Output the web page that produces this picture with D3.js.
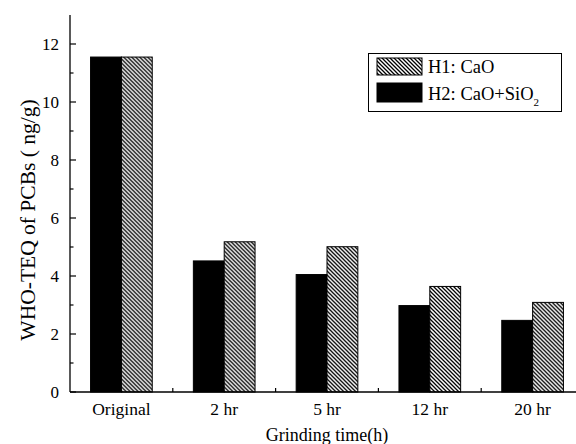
<!DOCTYPE html>
<html>
<head>
<meta charset="utf-8">
<script src="https://cdn.jsdelivr.net/npm/d3@7"></script>
<style>
  html, body { margin: 0; padding: 0; background: #fff; overflow: hidden; font-family: 'Liberation Serif', serif; }
</style>
</head>
<body>
<div id="chart"></div>
<script>
// values
const categories = ["Original", "2 hr", "5 hr", "12 hr", "20 hr"];
const seriesNames = ["H2", "H1"]; // black bar left, hatched bar right
const h1Values = [11.55, 5.18, 5.01, 3.64, 3.09];   // H1: CaO (hatched)
const h2Values = [11.55, 4.52, 4.05, 2.98, 2.47];   // H2: CaO+SiO2 (black)
const yTicks = [0, 2, 4, 6, 8, 10, 12];
const yMinorTicks = [1, 3, 5, 7, 9, 11];

const width = 576;
const height = 444;
const plotLeft = 70, plotBottom = 392, plotTop = 15;
const serif = "'Liberation Serif', serif";

const svg = d3.select("#chart")
  .append("svg")
  .attr("width", width)
  .attr("height", height)
  .style("display", "block");

// hatch pattern for H1: "\" lines, 4px period
const defs = svg.append("defs");
defs.append("pattern")
  .attr("id", "hatch")
  .attr("patternUnits", "userSpaceOnUse")
  .attr("width", 4)
  .attr("height", 4)
  .call(p => {
    p.append("rect").attr("width", 4).attr("height", 4).attr("fill", "#fff");
    p.append("path")
      .attr("d", "M-1,-1L5,5M-1,3L1,5M3,-1L5,1")
      .attr("stroke", "#000").attr("stroke-width", 1.3);
  });

const x0 = d3.scaleBand()
  .domain(categories)
  .range([plotLeft, 584])
  .paddingInner(0.4)
  .paddingOuter(0.2);

const x1 = d3.scaleBand()
  .domain(seriesNames)
  .range([0, x0.bandwidth()]);

const y = d3.scaleLinear()
  .domain([0, 13])
  .range([plotBottom, plotTop]);

const rows = categories.map((c, i) => ({
  cat: c,
  vals: [
    { key: "H2", value: h2Values[i] },
    { key: "H1", value: h1Values[i] }
  ]
}));

const fill = { H1: "url(#hatch)", H2: "#000" };

// bars
svg.append("g")
  .selectAll("g")
  .data(rows)
  .join("g")
  .attr("transform", d => `translate(${x0(d.cat)},0)`)
  .selectAll("rect")
  .data(d => d.vals)
  .join("rect")
  .attr("x", d => x1(d.key))
  .attr("y", d => y(d.value))
  .attr("width", x1.bandwidth())
  .attr("height", d => y(0) - y(d.value))
  .attr("fill", d => fill[d.key])
  .attr("stroke", "#000")
  .attr("stroke-width", 1);

// y axis
const yAxis = svg.append("g").attr("stroke", "#000");
yAxis.append("line")
  .attr("x1", plotLeft).attr("x2", plotLeft)
  .attr("y1", plotTop).attr("y2", plotBottom)
  .attr("stroke-width", 1.3);
yAxis.selectAll("line.major")
  .data(yTicks)
  .join("line")
  .attr("class", "major")
  .attr("x1", plotLeft).attr("x2", plotLeft + 6)
  .attr("y1", d => y(d)).attr("y2", d => y(d))
  .attr("stroke-width", 1.2);
yAxis.selectAll("line.minor")
  .data(yMinorTicks)
  .join("line")
  .attr("class", "minor")
  .attr("x1", plotLeft).attr("x2", plotLeft + 3.5)
  .attr("y1", d => y(d)).attr("y2", d => y(d))
  .attr("stroke-width", 1.2);
svg.append("g")
  .selectAll("text")
  .data(yTicks)
  .join("text")
  .attr("x", plotLeft - 11)
  .attr("y", d => y(d))
  .attr("dy", "0.33em")
  .attr("text-anchor", "end")
  .attr("font-family", serif)
  .style("font-size", "17px")
  .text(d => d);

// x axis
svg.append("line")
  .attr("x1", plotLeft).attr("x2", width)
  .attr("y1", plotBottom).attr("y2", plotBottom)
  .attr("stroke", "#000")
  .attr("stroke-width", 1.3);
svg.append("g")
  .selectAll("line")
  .data(categories.slice(1))
  .join("line")
  .attr("x1", d => x0(d) - x0.step() * x0.paddingInner() / 2)
  .attr("x2", d => x0(d) - x0.step() * x0.paddingInner() / 2)
  .attr("y1", plotBottom).attr("y2", plotBottom - 4)
  .attr("stroke", "#000")
  .attr("stroke-width", 1.2);
svg.append("g")
  .selectAll("text")
  .data(categories)
  .join("text")
  .attr("x", d => x0(d) + x0.bandwidth() / 2)
  .attr("y", plotBottom + 23)
  .attr("text-anchor", "middle")
  .attr("font-family", serif)
  .style("font-size", "17.5px")
  .text(d => d);

// axis titles
svg.append("text")
  .attr("x", 327)
  .attr("y", 441)
  .attr("text-anchor", "middle")
  .attr("font-family", serif)
  .style("font-size", "18px")
  .text("Grinding time(h)");
svg.append("text")
  .attr("transform", "translate(35, 220) rotate(-90)")
  .attr("text-anchor", "middle")
  .attr("font-family", serif)
  .style("font-size", "21.5px")
  .text("WHO-TEQ of PCBs ( ng/g)");

// legend
const legend = svg.append("g");
legend.append("rect")
  .attr("x", 368.5).attr("y", 53.5)
  .attr("width", 193).attr("height", 58)
  .attr("fill", "#fff").attr("stroke", "#000").attr("stroke-width", 1);
const legendItems = [
  { key: "H1", label: "H1: CaO", top: 58, h: 17, base: 73 },
  { key: "H2", label: "H2: CaO+SiO", sub: "2", top: 83, h: 19, base: 100 }
];
const li = legend.selectAll("g.item")
  .data(legendItems)
  .join("g")
  .attr("class", "item");
li.append("rect")
  .attr("x", 377)
  .attr("y", d => d.top)
  .attr("width", 45)
  .attr("height", d => d.h)
  .attr("fill", d => fill[d.key])
  .attr("stroke", "#000").attr("stroke-width", 1);
const lt = li.append("text")
  .attr("x", 428)
  .attr("y", d => d.base)
  .attr("font-family", serif)
  .style("font-size", "18.5px")
  .text(d => d.label);
lt.filter(d => d.sub)
  .append("tspan")
  .attr("dy", 6)
  .style("font-size", "11px")
  .text(d => d.sub);
</script>
</body>
</html>
